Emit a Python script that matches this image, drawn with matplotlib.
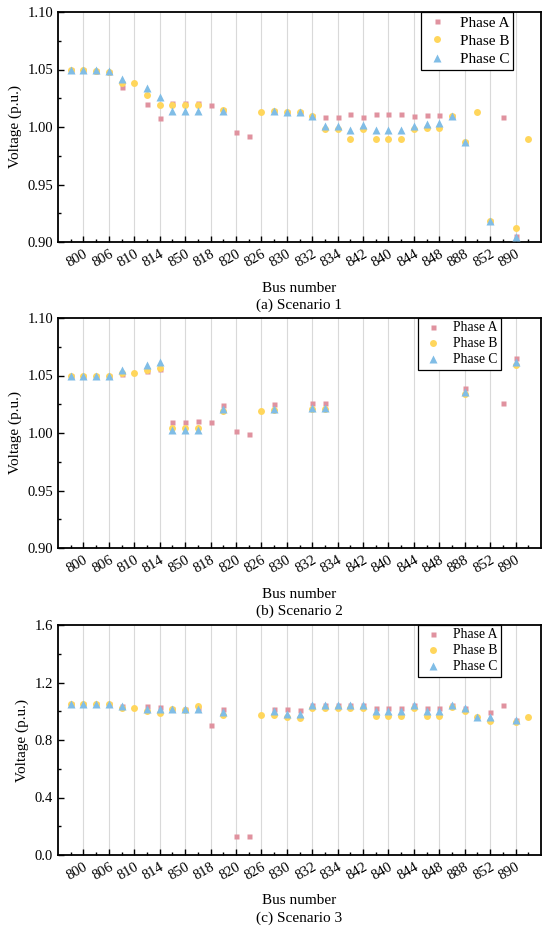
import numpy as np
import matplotlib
matplotlib.use("Agg")
import matplotlib.pyplot as plt
from matplotlib.ticker import MultipleLocator, FormatStrFormatter

plt.rcParams['font.family'] = ['Liberation Serif', 'DejaVu Serif']
plt.rcParams['mathtext.fontset'] = 'stix'

nan = np.nan

# 37 bus positions along the feeder, only every other one is labelled
n_bus = 37
bus_labels = ['800', '806', '810', '814', '850', '818', '820', '826', '830',
              '832', '834', '842', '840', '844', '848', '888', '852', '890']

# --- Scenario 1 ---
s1_a = [1.050, 1.050, 1.049, 1.048, 1.035, nan, 1.020, 1.0075, 1.0205, 1.0205,
        1.0205, 1.019, 1.0145, 0.9955, 0.992, nan, 1.0138, 1.0132, 1.0132, 1.010,
        1.009, 1.009, 1.0117, 1.009, 1.0117, 1.0117, 1.0117, 1.0094, 1.0102, 1.0105,
        1.010, 0.987, nan, 0.918, 1.009, 0.905, nan]
s1_b = [1.050, 1.050, 1.049, 1.048, 1.038, 1.038, 1.0275, 1.019, 1.019, 1.019,
        1.019, nan, 1.0145, nan, nan, 1.0133, 1.0135, 1.0132, 1.013, 1.010,
        0.998, 0.998, 0.9895, 0.998, 0.990, 0.990, 0.990, 0.998, 0.999, 0.9995,
        1.010, 0.987, 1.0132, 0.918, nan, 0.912, 0.990]
s1_c = [1.050, 1.050, 1.0495, 1.049, 1.042, nan, 1.0335, 1.026, 1.0135, 1.0135,
        1.0135, nan, 1.014, nan, nan, nan, 1.0138, 1.0132, 1.0132, 1.010,
        1.0013, 1.0013, 0.997, 1.0015, 0.997, 0.997, 0.997, 1.0013, 1.003, 1.0033,
        1.010, 0.987, nan, 0.918, nan, 0.904, nan]

# --- Scenario 2 ---
s2_a = [1.050, 1.050, 1.050, 1.050, 1.0515, nan, 1.054, 1.0553, 1.0099, 1.0099,
        1.0104, 1.0099, 1.024, 1.002, 0.999, nan, 1.0249, nan, nan, 1.0263,
        1.0263, nan, nan, nan, nan, nan, nan, nan, nan, nan,
        nan, 1.0388, nan, nan, 1.0263, 1.0654, nan]
s2_b = [1.050, 1.050, 1.050, 1.050, 1.052, 1.052, 1.055, 1.0567, 1.0047, 1.0047,
        1.0047, nan, 1.019, nan, nan, 1.019, 1.020, nan, nan, 1.021,
        1.021, nan, nan, nan, nan, nan, nan, nan, nan, nan,
        nan, 1.0335, nan, nan, nan, 1.0587, nan]
s2_c = [1.050, 1.050, 1.050, 1.050, 1.055, nan, 1.059, 1.0619, 1.0023, 1.0023,
        1.0025, nan, 1.021, nan, nan, nan, 1.0213, nan, nan, 1.022,
        1.022, nan, nan, nan, nan, nan, nan, nan, nan, nan,
        nan, 1.0353, nan, nan, nan, 1.0619, nan]

# --- Scenario 3 ---
s3_a = [1.050, 1.050, 1.050, 1.050, 1.040, nan, 1.036, 1.031, 1.015, 1.015,
        1.025, 0.902, 1.017, 0.129, 0.129, nan, 1.017, 1.013, 1.008, 1.043,
        1.043, 1.043, 1.043, 1.043, 1.022, 1.022, 1.022, 1.043, 1.022, 1.022,
        1.045, 1.024, nan, 0.994, 1.043, 0.939, nan]
s3_b = [1.050, 1.050, 1.050, 1.050, 1.024, 1.024, 1.004, 0.990, 1.013, 1.011,
        1.036, nan, 0.974, nan, nan, 0.971, 0.974, 0.957, 0.955, 1.024,
        1.024, 1.024, 1.024, 1.024, 0.964, 0.964, 0.964, 1.024, 0.969, 0.969,
        1.027, 1.001, 0.957, 0.932, nan, 0.927, 0.962]
s3_c = [1.050, 1.050, 1.050, 1.050, 1.040, nan, 1.015, 1.013, 1.013, 1.013,
        1.015, nan, 0.997, nan, nan, nan, 1.001, 0.980, 0.980, 1.043,
        1.043, 1.043, 1.043, 1.043, 1.001, 1.001, 1.001, 1.043, 1.001, 1.001,
        1.045, 1.024, 0.957, 0.957, nan, 0.939, nan]

scenarios = [
    ("(a) Scenario 1", s1_a, s1_b, s1_c, (0.90, 1.10), 0.05, '%.2f'),
    ("(b) Scenario 2", s2_a, s2_b, s2_c, (0.90, 1.10), 0.05, '%.2f'),
    ("(c) Scenario 3", s3_a, s3_b, s3_c, (0.0, 1.6), 0.4, '%.1f'),
]

col_a = '#E0929F'
col_b = '#FFD65C'
col_c = '#80BDE6'

W, H = 550, 934
fig = plt.figure(figsize=(W / 100, H / 100), dpi=100)

ax_left, ax_right = 58, 541
ax_tops = [12, 318, 625]
ax_h = 230

x = np.arange(n_bus)
for i, (cap, va, vb, vc, ylim, ystep, yfmt) in enumerate(scenarios):
    top = ax_tops[i]
    ax = fig.add_axes([ax_left / W, 1 - (top + ax_h) / H,
                       (ax_right - ax_left) / W, ax_h / H])

    ax.plot(x, va, 's', color=col_a, ms=3.6, mec='none', label='Phase A', zorder=3)
    ax.plot(x, vb, 'o', color=col_b, ms=5.0, mec='none', label='Phase B', zorder=4)
    ax.plot(x, vc, '^', color=col_c, ms=5.4, mec='none', label='Phase C', zorder=5)

    ax.set_xlim(-1, 37)
    ax.set_ylim(*ylim)
    ax.set_xticks(np.arange(1, n_bus, 2))
    ax.set_xticks(np.arange(0, n_bus, 2), minor=True)
    ax.set_xticklabels(bus_labels, rotation=30, ha='right', rotation_mode='anchor',
                       fontsize=10.5)
    ax.yaxis.set_major_locator(MultipleLocator(ystep))
    ax.yaxis.set_minor_locator(MultipleLocator(ystep / 2))
    ax.yaxis.set_major_formatter(FormatStrFormatter(yfmt))
    ax.tick_params(axis='y', labelsize=10.5)
    ax.tick_params(which='both', direction='in', width=1.0)
    ax.tick_params(which='major', length=4)
    ax.tick_params(which='minor', length=2.2)
    ax.tick_params(axis='x', which='major', pad=4)

    ax.grid(True, axis='x', which='major', color='#d9d9d9', lw=0.8)
    ax.set_axisbelow(True)
    for sp in ax.spines.values():
        sp.set_linewidth(1.3)

    ax.set_ylabel('Voltage (p.u.)', fontsize=11, labelpad=4)

    # x label and caption under the rotated tick labels
    ax.text(0.5, -46 / ax_h, 'Bus number', transform=ax.transAxes,
            ha='center', va='center', fontsize=11)
    ax.text(0.5, -63 / ax_h, cap, transform=ax.transAxes,
            ha='center', va='center', fontsize=11)

    if i == 0:
        fs, lsp, anchor_x = 11, 0.3, (513 - ax_left) / (ax_right - ax_left)
    else:
        fs, lsp, anchor_x = 9.8, 0.22, (501 - ax_left) / (ax_right - ax_left)
    leg = ax.legend(loc='upper right', bbox_to_anchor=(anchor_x, 1.0), fontsize=fs,
                    frameon=True, fancybox=False, framealpha=1, edgecolor='black',
                    borderaxespad=0, borderpad=0.25, labelspacing=lsp,
                    handlelength=1.6, handletextpad=0.7)
    leg.get_frame().set_linewidth(0.9)

fig.savefig('out.png', dpi=100)
